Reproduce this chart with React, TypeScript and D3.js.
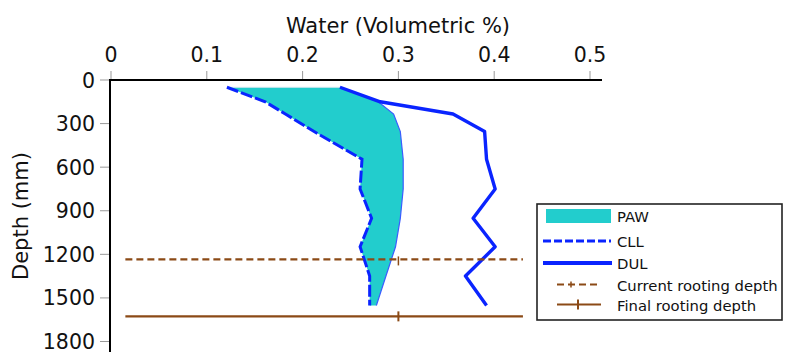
import React from "react";
import * as d3 from "d3";

// Layer mid-depths (mm) and the water contents at each of them
const depths = [50, 150, 234, 355, 545, 750, 952, 1148, 1349, 1552];
const cll = [0.121, 0.161, 0.182, 0.212, 0.262, 0.260, 0.272, 0.260, 0.270, 0.270];
const dul = [0.239, 0.281, 0.357, 0.390, 0.392, 0.401, 0.378, 0.401, 0.370, 0.392];
const soilWater = [0.239, 0.279, 0.295, 0.302, 0.305, 0.305, 0.302, 0.297, 0.287, 0.277];

const xTicks = [0, 0.1, 0.2, 0.3, 0.4, 0.5];
const yTicks = [0, 300, 600, 900, 1200, 1500, 1800];

const currentRootDepth = 1235;
const finalRootDepth = 1627;
const rootLineFrom = 0.015;
const rootLineTo = 0.43;
const rootMarkAt = 0.3;

const legendItems = ["PAW", "CLL", "DUL", "Current rooting depth", "Final rooting depth"];

const W = 787;
const H = 352;
const FONT = "'DejaVu Sans', sans-serif";
const BLUE = "#0a24ff";
const CYAN = "#22cdcd";
const BROWN = "#8b4a16";

export default function App() {
  const x = d3.scaleLinear().domain([0, 0.5]).range([111, 590]);
  const y = d3.scaleLinear().domain([0, 1800]).range([80, 341.5]);

  const rows = depths.map((d, i) => ({ d, cll: cll[i], dul: dul[i], sw: soilWater[i] }));
  type Row = (typeof rows)[number];

  const pawArea = d3
    .area<Row>()
    .y((r) => y(r.d))
    .x0((r) => x(r.cll))
    .x1((r) => x(r.sw))(rows) as string;
  const swLine = d3.line<Row>().y((r) => y(r.d)).x((r) => x(r.sw))(rows) as string;
  const cllLine = d3.line<Row>().y((r) => y(r.d)).x((r) => x(r.cll))(rows) as string;
  const dulLine = d3.line<Row>().y((r) => y(r.d)).x((r) => x(r.dul))(rows) as string;

  const axisX = 110;
  const axisY = 80;

  const lgX = 537;
  const lgY = 204;
  const rowY = [216, 241, 263, 284.5, 304.5];

  return (
    <svg
      width={W}
      height={H}
      style={{ position: "absolute", left: 0, top: 0, background: "#fff" }}
      fontFamily={FONT}
    >
      <rect x={0} y={0} width={W} height={H} fill="#fff" />

      {/* title */}
      <text x={398} y={33} fontSize={21} textAnchor="middle" fill="#111">
        Water (Volumetric %)
      </text>
      <text
        transform={`translate(28, 216) rotate(-90)`}
        fontSize={21}
        textAnchor="middle"
        fill="#111"
      >
        Depth (mm)
      </text>

      {/* x ticks on top */}
      {xTicks.map((t) => (
        <g key={`xt${t}`}>
          <line x1={x(t)} x2={x(t)} y1={71} y2={axisY} stroke="#999" strokeWidth={1} />
          <text x={x(t)} y={62} fontSize={20.5} textAnchor="middle" fill="#111">
            {t === 0 ? "0" : t.toFixed(1)}
          </text>
        </g>
      ))}

      {/* y ticks on left */}
      {yTicks.map((t) => (
        <g key={`yt${t}`}>
          <line x1={100} x2={axisX} y1={y(t)} y2={y(t)} stroke="#999" strokeWidth={1} />
          <text x={95} y={y(t) + 7.5} fontSize={20.5} textAnchor="end" fill="#111">
            {t}
          </text>
        </g>
      ))}

      {/* plant available water */}
      <path d={pawArea} fill={CYAN} stroke="none" />
      <line
        x1={x(cll[0])}
        x2={x(soilWater[0])}
        y1={y(depths[0])}
        y2={y(depths[0])}
        stroke="#d8e8f0"
        strokeWidth={1}
      />
      <path d={swLine} fill="none" stroke="#3a5cff" strokeWidth={1.2} />

      {/* lower limit and upper limit */}
      <path d={cllLine} fill="none" stroke={BLUE} strokeWidth={3} strokeDasharray="12,3" />
      <path d={dulLine} fill="none" stroke={BLUE} strokeWidth={3.4} strokeLinejoin="round" />

      {/* rooting depths */}
      <line
        x1={x(rootLineFrom)}
        x2={x(rootLineTo)}
        y1={y(currentRootDepth)}
        y2={y(currentRootDepth)}
        stroke={BROWN}
        strokeWidth={2.2}
        strokeDasharray="7,4"
      />
      <line
        x1={x(rootMarkAt)}
        x2={x(rootMarkAt)}
        y1={y(currentRootDepth) - 3}
        y2={y(currentRootDepth) + 6}
        stroke={BROWN}
        strokeWidth={1.5}
      />
      <line
        x1={x(rootLineFrom)}
        x2={x(rootLineTo)}
        y1={y(finalRootDepth)}
        y2={y(finalRootDepth)}
        stroke={BROWN}
        strokeWidth={2.2}
      />
      <line
        x1={x(rootMarkAt)}
        x2={x(rootMarkAt)}
        y1={y(finalRootDepth) - 5}
        y2={y(finalRootDepth) + 5}
        stroke={BROWN}
        strokeWidth={2}
      />

      {/* axes */}
      <line x1={axisX} x2={602} y1={axisY} y2={axisY} stroke="#000" strokeWidth={2} />
      <line x1={axisX} x2={axisX} y1={axisY - 1} y2={H} stroke="#000" strokeWidth={2} />

      {/* legend */}
      <rect
        x={lgX}
        y={lgY}
        width={245}
        height={116}
        fill="#fff"
        stroke="#222"
        strokeWidth={1.6}
      />
      <rect x={546} y={rowY[0] - 7} width={65} height={14} fill={CYAN} />
      <line x1={543} x2={611} y1={rowY[1]} y2={rowY[1]} stroke={BLUE} strokeWidth={3} strokeDasharray="8,3" />
      <line x1={543} x2={612} y1={rowY[2]} y2={rowY[2]} stroke={BLUE} strokeWidth={4} />
      <line x1={557} x2={601} y1={rowY[3]} y2={rowY[3]} stroke={BROWN} strokeWidth={2.2} strokeDasharray="7,4" />
      <line x1={571} x2={571} y1={rowY[3] - 3} y2={rowY[3] + 3} stroke={BROWN} strokeWidth={1.5} />
      <line x1={557} x2={601} y1={rowY[4]} y2={rowY[4]} stroke={BROWN} strokeWidth={2.2} />
      <line x1={578} x2={578} y1={rowY[4] - 5} y2={rowY[4] + 5} stroke={BROWN} strokeWidth={2} />
      {legendItems.map((label, i) => (
        <text key={label} x={617} y={rowY[i] + 6} fontSize={14.8} fill="#111">
          {label}
        </text>
      ))}
    </svg>
  );
}
